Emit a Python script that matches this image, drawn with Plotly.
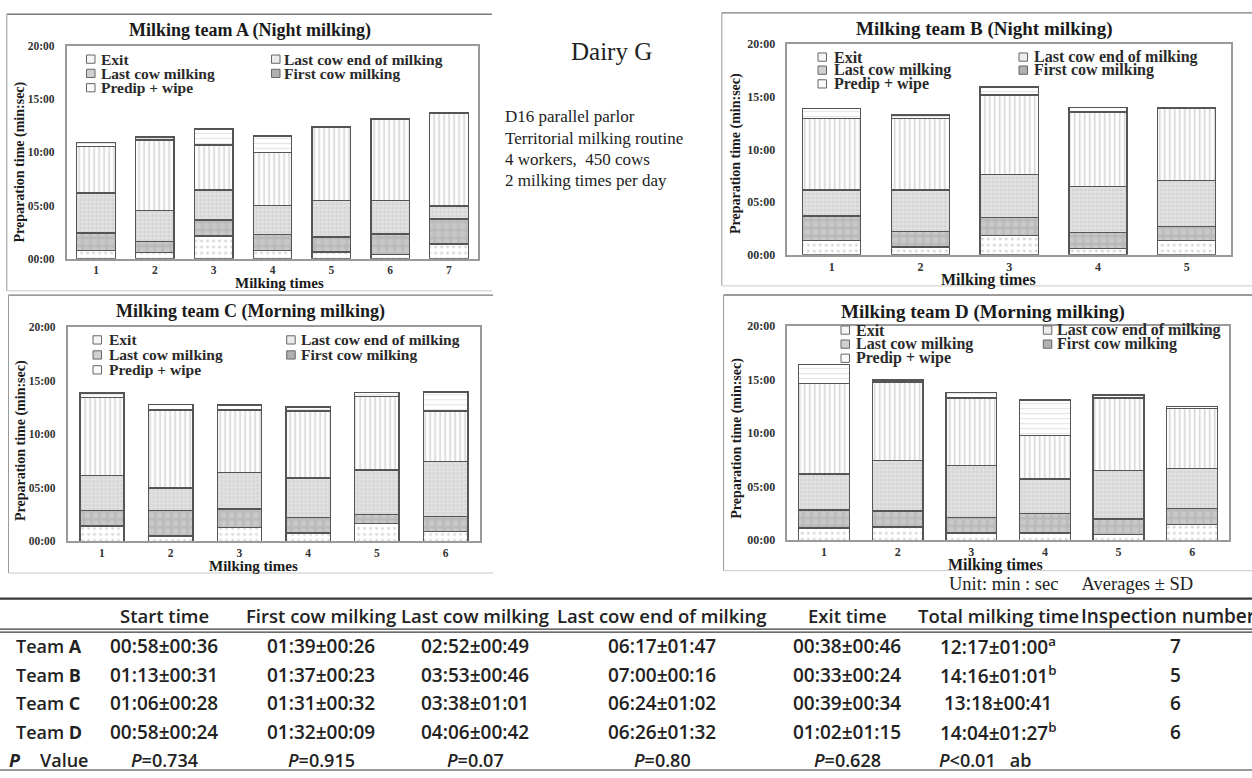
import plotly.graph_objects as go

# ---------------- data (minutes, stacked segment durations) ----------------
SERIES = ["Predip + wipe", "First cow milking", "Last cow milking",
          "Last cow end of milking", "Exit"]
Y_TICK_VALUES = [0, 5, 10, 15, 20]
Y_TICK_LABELS = ["00:00", "05:00", "10:00", "15:00", "20:00"]

A_CATS = [1, 2, 3, 4, 5, 6, 7]
A_PREDIP = [0.78, 0.56, 2.12, 0.78, 0.62, 0.41, 1.37]
A_FIRST = [1.65, 1.06, 1.53, 1.47, 1.41, 1.90, 2.37]
A_LASTCOW = [3.75, 2.90, 2.81, 2.74, 3.43, 3.15, 1.22]
A_LASTEND = [4.37, 6.65, 4.21, 4.99, 6.90, 7.68, 8.71]
A_EXIT = [0.37, 0.25, 1.53, 1.56, 0.06, 0.03, 0.06]

B_CATS = [1, 2, 3, 4, 5]
B_PREDIP = [1.34, 0.75, 1.81, 0.59, 1.34]
B_FIRST = [2.32, 1.47, 1.72, 1.50, 1.35]
B_LASTCOW = [2.50, 3.94, 4.06, 4.41, 4.34]
B_LASTEND = [6.78, 6.78, 7.57, 7.06, 6.91]
B_EXIT = [0.96, 0.31, 0.78, 0.44, 0.03]

C_CATS = [1, 2, 3, 4, 5, 6]
C_PREDIP = [1.44, 0.50, 1.31, 0.75, 1.68, 0.90]
C_FIRST = [1.43, 2.40, 1.72, 1.47, 0.82, 1.41]
C_LASTCOW = [3.25, 2.06, 3.37, 3.68, 4.15, 5.15]
C_LASTEND = [7.33, 7.30, 5.86, 6.27, 6.86, 4.71]
C_EXIT = [0.40, 0.53, 0.47, 0.37, 0.41, 1.78]

D_CATS = [1, 2, 3, 4, 5, 6]
D_PREDIP = [1.14, 1.23, 0.68, 0.68, 0.56, 1.45]
D_FIRST = [1.67, 1.49, 1.42, 1.79, 1.42, 1.51]
D_LASTCOW = [3.36, 4.72, 4.88, 3.24, 4.53, 3.74]
D_LASTEND = [8.49, 7.34, 6.29, 4.10, 6.76, 5.58]
D_EXIT = [1.76, 0.19, 0.53, 3.28, 0.28, 0.22]

CHART_TITLES = ["Milking team A (Night milking)", "Milking team B (Night milking)",
                "Milking team C (Morning milking)", "Milking team D (Morning milking)"]

TABLE_HEADERS = ["Start time", "First cow milking", "Last cow milking",
                 "Last cow end of milking", "Exit time", "Total milking time",
                 "Inspection number"]
TEAM_LETTERS = ["A", "B", "C", "D"]
START_TIME = ["00:58±00:36", "01:13±00:31", "01:06±00:28", "00:58±00:24"]
FIRST_COW = ["01:39±00:26", "01:37±00:23", "01:31±00:32", "01:32±00:09"]
LAST_COW = ["02:52±00:49", "03:53±00:46", "03:38±01:01", "04:06±00:42"]
LAST_END = ["06:17±01:47", "07:00±00:16", "06:24±01:02", "06:26±01:32"]
EXIT_TIME = ["00:38±00:46", "00:33±00:24", "00:39±00:34", "01:02±01:15"]
TOTAL_TIME = ["12:17±01:00<sup>a</sup>", "14:16±01:01<sup>b</sup>",
              "13:18±00:41", "14:04±01:27<sup>b</sup>"]
INSPECTIONS = ["7", "5", "6", "6"]
P_VALUES = ["<i>P</i>=0.734", "<i>P</i>=0.915", "<i>P</i>=0.07", "<i>P</i>=0.80",
            "<i>P</i>=0.628", "<i>P</i>&lt;0.01\u00a0\u00a0\u00a0ab"]

# ---------------- layout helpers ----------------
W, H = 1252, 778
def fx(px):
    return px / W
def fy(py):
    return 1 - py / H

SERIF = "Liberation Serif"
SANS = "Open Sans"

STYLES = [
    dict(bg="#ffffff", fg="#b0b0b0", shape=".", size=6, sol=0.2, icon="#fafafa"),
    dict(bg="#bababa", fg="#d6d6d6", shape=".", size=8, sol=0.45, icon="#b0b0b0"),
    dict(bg="#e0e0e0", fg="#c2c2c2", shape=".", size=4, sol=0.3, icon="#d0d0d0"),
    dict(bg="#ffffff", fg="#a4a4a4", shape="|", size=5, sol=0.3, icon="#ececec"),
    dict(bg="#ffffff", fg="#c8c8c8", shape="-", size=5, sol=0.22, icon="#f6f6f6"),
]

charts = [
    dict(cats=A_CATS, vals=[A_PREDIP, A_FIRST, A_LASTCOW, A_LASTEND, A_EXIT],
         plot=(66.6, 478.4, 39.6, 256.3), bw=0.655,
         box=(6.8, 7.4, 492, 289), title=(250, 24.3, 18),
         leg=(86.5, 98.7, 271.5, 282.3, [53.1, 67.6, 82.2], 15.5),
         ytitle=(20.3, 158, 14), xtitle=(279, 281.5, 15), tick=11.5),
    dict(cats=B_CATS, vals=[B_PREDIP, B_FIRST, B_LASTCOW, B_LASTEND, B_EXIT],
         plot=(787.3, 1231, 37.7, 252.3), bw=0.655,
         box=(721.8, 6, 1262, 284), title=(984, 22.7, 19),
         leg=(818, 831.7, 1019, 1032, [51, 64.3, 78.3], 16),
         ytitle=(736.7, 149, 14), xtitle=(988, 277.5, 16), tick=12),
    dict(cats=C_CATS, vals=[C_PREDIP, C_FIRST, C_LASTCOW, C_LASTEND, C_EXIT],
         plot=(67.6, 480, 326.2, 544), bw=0.645,
         box=(8.5, 293.5, 493, 576.4), title=(250.7, 310.4, 18),
         leg=(93, 106.5, 286.7, 299, [339, 354.3, 369.5], 15.5),
         ytitle=(21, 442, 14), xtitle=(253.5, 569, 15), tick=11.5),
    dict(cats=D_CATS, vals=[D_PREDIP, D_FIRST, D_LASTCOW, D_LASTEND, D_EXIT],
         plot=(787.3, 1229, 325, 543), bw=0.69,
         box=(723.6, 293.3, 1262, 574), title=(983.5, 310.7, 19),
         leg=(841, 854.3, 1043.3, 1055, [329, 343.3, 357.7], 16),
         ytitle=(736.7, 439, 14), xtitle=(995, 568.5, 16), tick=12),
]

fig = go.Figure()
annotations = []
shapes = []
layout_axes = {}

def ann(text, x, y, size, family=SERIF, xanchor="center", weight="normal",
        color="#222222", textangle=0):
    annotations.append(dict(text=text, x=fx(x), y=fy(y), xref="paper", yref="paper",
                            xanchor=xanchor, yanchor="middle", showarrow=False,
                            textangle=textangle,
                            font=dict(family=family, size=size, color=color, weight=weight)))

def line(x0, y0, x1, y1, color="#888888", width=1.2):
    shapes.append(dict(type="line", xref="paper", yref="paper",
                       x0=fx(x0), y0=fy(y0), x1=fx(x1), y1=fy(y1),
                       line=dict(color=color, width=width)))

for i, ch in enumerate(charts, start=1):
    xa = "x" if i == 1 else f"x{i}"
    ya = "y" if i == 1 else f"y{i}"
    for s, (name, vals) in enumerate(zip(SERIES, ch["vals"])):
        st = STYLES[s]
        fig.add_trace(go.Bar(
            x=ch["cats"], y=vals, name=name, xaxis=xa, yaxis=ya, width=ch["bw"],
            showlegend=False, hoverinfo="skip",
            marker=dict(color=st["bg"], line=dict(color="#555555", width=1.4),
                        pattern=dict(shape=st["shape"], fgcolor=st["fg"], bgcolor=st["bg"],
                                     size=st["size"], solidity=st["sol"]))))
    l, r, t, b = ch["plot"]
    layout_axes["xaxis" if i == 1 else f"xaxis{i}"] = dict(
        domain=[fx(l), fx(r)], anchor=ya, range=[0.5, len(ch["cats"]) + 0.5],
        tickvals=ch["cats"], ticktext=[str(c) for c in ch["cats"]],
        tickfont=dict(family=SERIF, size=ch["tick"], color="#333", weight="bold"),
        showline=True, mirror=True, linecolor="#9a9a9a", linewidth=1.5,
        showgrid=False, zeroline=False, ticks="", ticklabelstandoff=0, fixedrange=True)
    layout_axes["yaxis" if i == 1 else f"yaxis{i}"] = dict(
        domain=[fy(b), fy(t)], anchor=xa, range=[0, 20],
        tickvals=Y_TICK_VALUES, ticktext=Y_TICK_LABELS,
        tickfont=dict(family=SERIF, size=ch["tick"], color="#333", weight="bold"),
        showline=True, mirror=True, linecolor="#9a9a9a", linewidth=1.5,
        showgrid=False, zeroline=False, ticks="", ticklabelstandoff=8, fixedrange=True)
    # outer frame
    bl, bt, br, bb = ch["box"]
    line(bl, bt, br, bt, "#7a7a7a", 1.3)
    line(bl, bt, bl, bb, "#9a9a9a", 1.0)
    line(bl, bb, br, bb, "#c8c8c8", 1.0)
    # title & axis titles
    tx, ty, ts = ch["title"]
    ann(CHART_TITLES[i - 1], tx, ty, ts, weight="bold", color="#1a1a1a")
    yx, yy, ys = ch["ytitle"]
    ann("Preparation time (min:sec)", yx, yy, ys, weight="bold", textangle=-90, color="#1a1a1a")
    xx, xy, xs = ch["xtitle"]
    ann("Milking times", xx, xy, xs, weight="bold", color="#1a1a1a")
    # legend (drawn manually for tight row spacing)
    i1, t1, i2, t2, rows, fs = ch["leg"]
    order = [(4, i1, t1, 0), (3, i2, t2, 0), (2, i1, t1, 1), (1, i2, t2, 1), (0, i1, t1, 2)]
    for s, ix, txx, row in order:
        yc = rows[row]
        shapes.append(dict(type="rect", xref="paper", yref="paper",
                           x0=fx(ix), x1=fx(ix + 8.5), y0=fy(yc + 4.2), y1=fy(yc - 4.2),
                           fillcolor=STYLES[s]["icon"], line=dict(color="#666666", width=1)))
        ann(SERIES[s], txx, yc, fs, xanchor="left", weight="bold", color="#2a2a2a")

# ---------------- middle description ----------------
ann("Dairy G", 611, 45, 25, color="#222")
DESC = ["D16 parallel parlor", "Territorial milking routine",
        "4 workers,\u00a0\u00a0450 cows", "2 milking times per day"]
for txt, yy in zip(DESC, [112, 133.5, 155, 176.5]):
    ann(txt, 503, yy, 17, xanchor="left", color="#222")

ann("Unit: min : sec\u00a0\u00a0\u00a0\u00a0\u00a0Averages ± SD", 947, 588, 18.5,
    xanchor="left", color="#222")

# ---------------- table ----------------
line(0, 602.5, 1252, 602.5, "#3a3a3a", 2.2)
line(0, 633.5, 1252, 633.5, "#3a3a3a", 1.2)
line(0, 636.5, 1252, 636.5, "#3a3a3a", 1.2)
line(0, 777, 1252, 777, "#777777", 1.5)

COL_X = [164, 321, 475, 662, 847, 998, 1175]
HEADER_Y = 620
ROW_Y = [651, 680, 709, 738]
P_Y = 767
TS = 18
TW = 600
for cx, h in zip(COL_X[:6], TABLE_HEADERS[:6]):
    ann(h, cx, HEADER_Y, TS + 0.5, family=SANS, weight=TW, color="#222")
ann(TABLE_HEADERS[6], 1079, HEADER_Y, TS + 1, family=SANS, weight=TW, color="#222",
    xanchor="left")

columns = [START_TIME, FIRST_COW, LAST_COW, LAST_END, EXIT_TIME, TOTAL_TIME, INSPECTIONS]
for r, letter in enumerate(TEAM_LETTERS):
    ann(f"Team <b>{letter}</b>", 14, ROW_Y[r], TS, family=SANS, weight=TW,
        xanchor="left", color="#222")
    for cx, col in zip(COL_X, columns):
        ann(col[r], cx, ROW_Y[r], TS + 1, family=SANS, weight=TW, color="#222")

ann("<b><i>P</i></b>", 7, P_Y, TS, family=SANS, weight=TW, xanchor="left", color="#222")
ann("Value", 38, P_Y, TS, family=SANS, weight=TW, xanchor="left", color="#222")
for k, pv in enumerate(P_VALUES[:5]):
    ann(pv, COL_X[k], P_Y, TS, family=SANS, weight=TW, color="#222")
ann(P_VALUES[5], 937, P_Y, TS, family=SANS, weight=TW, xanchor="left", color="#222")

fig.update_layout(
    width=W, height=H, margin=dict(l=0, r=0, t=0, b=0),
    paper_bgcolor="white", plot_bgcolor="white", barmode="stack",
    showlegend=False, annotations=annotations, shapes=shapes, **layout_axes)

fig.write_html("out.html")
